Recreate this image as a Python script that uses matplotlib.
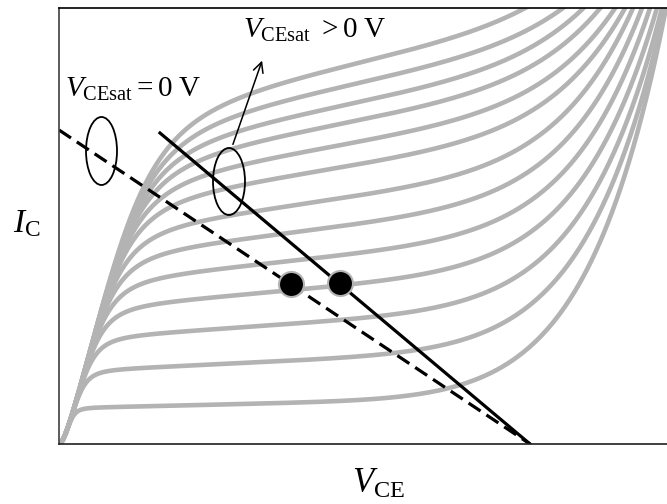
import numpy as np
import matplotlib
matplotlib.use('Agg')
import matplotlib.pyplot as plt
from matplotlib.patches import Ellipse

plt.rcParams['mathtext.fontset'] = 'custom'
plt.rcParams['mathtext.rm'] = 'Liberation Serif'
plt.rcParams['mathtext.it'] = 'Liberation Serif:italic'
plt.rcParams['font.family'] = 'Liberation Serif'

# Mức dòng IC của từng đường đặc tuyến (đọc tại VCE ~ 141), từ dưới lên
muc_ic = [39, 79, 114, 146, 174, 201, 227, 256, 277, 297, 314, 332, 351]
# VCE tại đó mỗi đường chạm mép trên của hình (vùng đánh thủng)
vce_thoat = [607, 606, 603, 598, 591, 583, 574, 566, 556, 541, 524, 503, 464]

# Đường tải: điểm đầu và điểm cuối
tai_0v_x = [0, 471]
tai_0v_y = [314, 0]
tai_sat_x = [101, 471]
tai_sat_y = [311, 0]

# Hai điểm làm việc
diem_x = [232, 281]
diem_y = [160, 161]

# Tham số hình dạng đặc tuyến
VA = 1550.0      # điện áp Early
IC_MAX = 436.0
n_bd = 8.0
g = 4.0
V0 = 10.0
p = 3.2

v = np.linspace(0.01, 620, 1500)
bao = g * v ** 2 / (v + V0)

fig = plt.figure(figsize=(6.67, 5.04), dpi=100)
ax = fig.add_axes([59 / 667, 60 / 504, 608 / 667, 436 / 504])

for h, ve in zip(muc_ic, vce_thoat):
    h0 = h / (1 + 141 / VA)
    phang = h0 * (1 + v / VA)
    b = IC_MAX - h0 * (1 + ve / VA)
    ic = (bao ** -p + phang ** -p) ** (-1 / p) + b * (v / ve) ** n_bd
    ax.plot(v, ic, color='#b3b3b3', lw=3.3, solid_capstyle='round', zorder=1)

ax.plot(tai_0v_x, tai_0v_y, color='black', lw=2.3, linestyle=(0, (4.5, 2.2)), zorder=2)
ax.plot(tai_sat_x, tai_sat_y, color='black', lw=2.3, zorder=2)
ax.plot(diem_x, diem_y, 'o', color='black', markersize=18,
        markeredgecolor='#b3b3b3', markeredgewidth=1.5, zorder=3)

ax.add_patch(Ellipse((42.5, 293), 31, 68, fill=False, ec='black', lw=1.3, zorder=4))
ax.add_patch(Ellipse((170, 262.5), 32, 67, fill=False, ec='black', lw=1.3, zorder=4))
ax.annotate('', xy=(204, 386), xytext=(173, 297),
            arrowprops=dict(arrowstyle='->', lw=1.1, mutation_scale=18, color='black'))

ax.text(6, 347, r'$V_{\mathrm{CEsat}} = 0\ \mathrm{V}$', fontsize=21, ha='left', va='baseline')
ax.text(184, 406, r'$V_{\mathrm{CEsat}}\ > 0\ \mathrm{V}$', fontsize=21, ha='left', va='baseline')

fig.text(13 / 667, 1 - 232 / 504, r'$I_{\mathrm{C}}$', fontsize=24, ha='left', va='baseline')
fig.text(352 / 667, 1 - 493 / 504, r'$V_{\mathrm{CE}}$', fontsize=25, ha='left', va='baseline')

ax.set_xlim(0, 608)
ax.set_ylim(0, 436)
ax.set_xticks([])
ax.set_yticks([])
ax.spines['right'].set_visible(False)
for s in ['left', 'bottom', 'top']:
    ax.spines[s].set_linewidth(1.2)
ax.spines['left'].set_color('#404040')
ax.spines['bottom'].set_color('#202020')

fig.savefig('out.png', dpi=100)
